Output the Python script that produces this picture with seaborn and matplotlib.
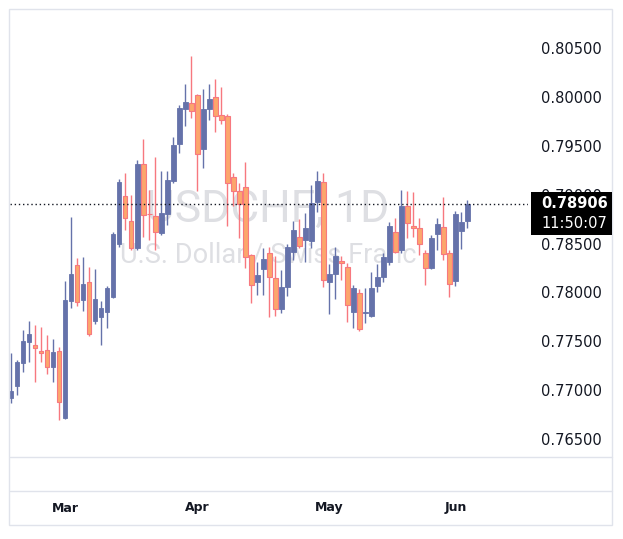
import numpy as np
import pandas as pd
import matplotlib
matplotlib.use("Agg")
import matplotlib.pyplot as plt
import matplotlib.transforms as mtransforms
from matplotlib.patches import Rectangle
from matplotlib.lines import Line2D
import seaborn as sns

# USD/CHF daily bars
dates = pd.bdate_range("2026-02-17", "2026-06-03")

opens = [0.76920, 0.77042, 0.77278, 0.77492, 0.77462, 0.77400, 0.77411, 0.77237, 0.77400, 0.76715,
         0.77912, 0.78280, 0.77922, 0.78106, 0.77707, 0.77748, 0.77799, 0.77953, 0.78495, 0.78986,
         0.78730, 0.78454, 0.79313, 0.78802, 0.78781, 0.78607, 0.78802, 0.79139, 0.79518, 0.79876,
         0.79937, 0.80019, 0.79467, 0.79876, 0.79999, 0.79815, 0.79804, 0.79180, 0.79037, 0.79078,
         0.78383, 0.78106, 0.78239, 0.78403, 0.78147, 0.77830, 0.78055, 0.78413, 0.78567, 0.78536,
         0.78525, 0.78924, 0.79129, 0.78106, 0.78188, 0.78321, 0.78259, 0.77799, 0.77994, 0.77794,
         0.77758, 0.78066, 0.78157, 0.78311, 0.78618, 0.78434, 0.78884, 0.78679, 0.78658, 0.78403,
         0.78249, 0.78597, 0.78669, 0.78403, 0.78117, 0.78628, 0.78730]
highs = [0.77380, 0.77308, 0.77615, 0.77707, 0.77666, 0.77646, 0.77564, 0.77523, 0.77441, 0.78116,
         0.78771, 0.78352, 0.78362, 0.78259, 0.78239, 0.77912, 0.78066, 0.78618, 0.79160, 0.79221,
         0.78996, 0.79354, 0.79569, 0.79047, 0.79384, 0.79242, 0.79242, 0.79590, 0.79917, 0.80132,
         0.80418, 0.80029, 0.80080, 0.80132, 0.80183, 0.80101, 0.79825, 0.79221, 0.79119, 0.79333,
         0.78393, 0.78311, 0.78454, 0.78464, 0.78372, 0.78229, 0.78495, 0.78730, 0.78751, 0.78812,
         0.79098, 0.79242, 0.79221, 0.78291, 0.78464, 0.78372, 0.78300, 0.78076, 0.78035, 0.78045,
         0.78209, 0.78291, 0.78403, 0.78720, 0.78761, 0.79047, 0.79037, 0.79027, 0.78761, 0.78434,
         0.78587, 0.78761, 0.78976, 0.78434, 0.78833, 0.78822, 0.78945]
lows = [0.76868, 0.76950, 0.77185, 0.77288, 0.77083, 0.77288, 0.77165, 0.77083, 0.76694, 0.76705,
        0.77840, 0.77861, 0.77810, 0.77554, 0.77677, 0.77462, 0.77636, 0.77945, 0.78464, 0.78638,
        0.78434, 0.78434, 0.78567, 0.78536, 0.78434, 0.78587, 0.78689, 0.79119, 0.79426, 0.79702,
        0.79784, 0.79037, 0.79272, 0.79763, 0.79641, 0.79722, 0.78679, 0.78884, 0.78556, 0.78249,
        0.77891, 0.77973, 0.77973, 0.77748, 0.77759, 0.77789, 0.77963, 0.78331, 0.78454, 0.78311,
        0.78454, 0.78822, 0.78055, 0.77779, 0.77932, 0.78127, 0.77697, 0.77636, 0.77605, 0.77687,
        0.77750, 0.78004, 0.78106, 0.78280, 0.78403, 0.78403, 0.78556, 0.78567, 0.78383, 0.78076,
        0.78239, 0.78434, 0.78331, 0.77953, 0.78066, 0.78444, 0.78658]
closes = [0.76991, 0.77288, 0.77503, 0.77574, 0.77431, 0.77380, 0.77237, 0.77390, 0.76879, 0.77922,
          0.78188, 0.77902, 0.78086, 0.77574, 0.77932, 0.77840, 0.78045, 0.78597, 0.79129, 0.78761,
          0.78454, 0.79313, 0.78792, 0.78797, 0.78618, 0.78812, 0.79150, 0.79508, 0.79886, 0.79947,
          0.79855, 0.79416, 0.79876, 0.79978, 0.79804, 0.79763, 0.79119, 0.79037, 0.78904, 0.78362,
          0.78076, 0.78178, 0.78341, 0.78157, 0.77830, 0.78055, 0.78464, 0.78638, 0.78475, 0.78658,
          0.78914, 0.79139, 0.78127, 0.78188, 0.78372, 0.78300, 0.77871, 0.78045, 0.77626, 0.77799,
          0.78045, 0.78157, 0.78362, 0.78679, 0.78413, 0.78884, 0.78710, 0.78658, 0.78495, 0.78249,
          0.78556, 0.78699, 0.78393, 0.78086, 0.78802, 0.78720, 0.78906]

last_price = "0.78906"
countdown = "11:50:07"
y_ticks = [0.765, 0.770, 0.775, 0.780, 0.785, 0.790, 0.795, 0.800, 0.805]

df = pd.DataFrame({"date": dates, "open": opens, "high": highs, "low": lows, "close": closes})
df["x"] = np.arange(len(df))
df["up"] = df["close"] >= df["open"]
df["bottom"] = df[["open", "close"]].min(axis=1)
df["height"] = (df["close"] - df["open"]).abs()

BLUE = "#6572AA"
RED_EDGE = "#F7787F"
RED_FILL = "#FCA66C"
TXT = "#131722"
BORDER = "#E0E3EB"

sns.set_theme(style="white")
plt.rcParams["font.family"] = ["DejaVu Sans"]

W, H = 623, 539
fig = plt.figure(figsize=(W / 100, H / 100), dpi=100)
ax = fig.add_axes([10 / W, 1 - 457 / H, (528 - 10) / W, (457 - 10) / H])
ax.set_facecolor("white")

# watermark behind the candles
ax.text(0.498, 0.553, "USDCHF, 1D", transform=ax.transAxes, ha="center", va="center",
        fontsize=32, color="#DEDFE3", family="Roboto", zorder=0)
ax.text(0.498, 0.452, "U.S. Dollar / Swiss Franc", transform=ax.transAxes, ha="center",
        va="center", fontsize=19.5, color="#DEDFE3", family="Roboto", zorder=0)

up = df[df["up"]]
dn = df[~df["up"]]
ax.vlines(up["x"], up["low"], up["high"], color=BLUE, lw=1, zorder=2)
ax.vlines(dn["x"], dn["low"], dn["high"], color=RED_EDGE, lw=1, zorder=2)
ax.bar(up["x"], up["height"], bottom=up["bottom"], width=0.75, color=BLUE,
       edgecolor=BLUE, linewidth=0.6, zorder=3)
ax.bar(dn["x"], dn["height"], bottom=dn["bottom"], width=0.75, color=RED_FILL,
       edgecolor=RED_EDGE, linewidth=0.8, zorder=3)

ax.axhline(float(last_price), color=TXT, lw=1, ls=(0, (1, 2)), zorder=4)

ax.set_xlim(-0.2, 86.1)
ax.set_ylim(0.763159, 0.808888)
ax.yaxis.tick_right()
ax.set_yticks(y_ticks)
ax.set_yticklabels([f"{v:.5f}" for v in y_ticks])
ax.tick_params(axis="y", length=0, pad=9, labelsize=10.5, labelcolor=TXT)
ax.set_xticks([])
sns.despine(ax=ax, left=True, right=True, top=True, bottom=True)

# month labels under the time axis
month_idx = [i for i in range(1, len(df)) if df["date"][i].month != df["date"][i - 1].month]
trans = mtransforms.blended_transform_factory(ax.transData, fig.transFigure)
for i in month_idx:
    ax.text(i, 1 - 508 / H, df["date"][i].strftime("%b"), transform=trans, ha="center",
            va="center", fontsize=9, fontweight="bold", color=TXT, clip_on=False)

# card frame and separators
fig.add_artist(Rectangle((9 / W, 1 - 525 / H), (612 - 9) / W, (525 - 9) / H,
                         transform=fig.transFigure, fill=False, edgecolor=BORDER, lw=1))
for yy in (457, 491):
    fig.add_artist(Line2D([10 / W, 612 / W], [1 - yy / H] * 2, transform=fig.transFigure,
                          color=BORDER, lw=1))

# last price tag
fig.add_artist(Rectangle((531 / W, 1 - 235 / H), 81 / W, 43 / H, transform=fig.transFigure,
                         facecolor="black", edgecolor="none", zorder=5))
fig.text(541 / W, 1 - 204 / H, last_price, color="white", fontsize=10.5, fontweight="bold",
         va="center", ha="left", zorder=6)
fig.text(541 / W, 1 - 224 / H, countdown, color="white", fontsize=10.5, va="center",
         ha="left", zorder=6)

fig.savefig("out.png", dpi=100, facecolor="white")
